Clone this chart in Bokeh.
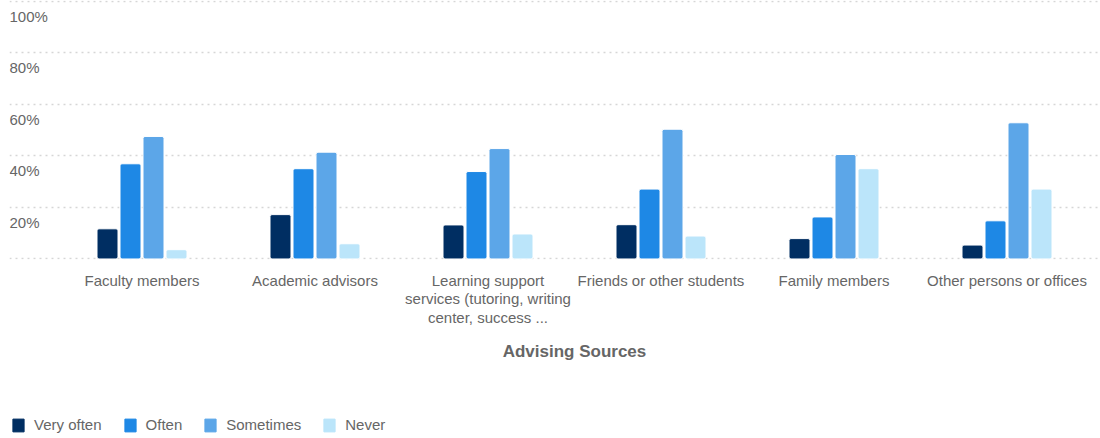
from bokeh.plotting import figure
from bokeh.layouts import column
from bokeh.models import (ColumnDataSource, FixedTicker, Grid, Range1d,
                          Legend, LegendItem, LinearAxis)
from bokeh.transform import dodge
from bokeh.core.properties import value
from bokeh.embed import file_html
from bokeh.resources import INLINE

# ---------------- data ----------------
categories = [
    "Faculty members",
    "Academic advisors",
    "Learning support\nservices (tutoring, writing\ncenter, success ...",
    "Friends or other students",
    "Family members",
    "Other persons or offices",
]
series_names = ["Very often", "Often", "Sometimes", "Never"]
very_often = [11.7, 17.2, 13.2, 13.3, 7.9, 5.4]
often = [36.9, 35.0, 33.9, 27.1, 16.3, 14.8]
sometimes = [47.5, 41.4, 42.8, 50.3, 40.5, 52.8]
never = [3.6, 5.9, 9.7, 8.9, 35.0, 27.1]
y_ticks = [0, 20, 40, 60, 80, 100]
y_tick_labels = ["", "20%", "40%", "60%", "80%", "100%"]
x_title = "Advising Sources"

colors = ["#002e62", "#1e88e5", "#5ca6e8", "#bbe5fa"]
FONT = "Liberation Sans"
TEXT = "#666666"

# ---------------- layout ----------------
W = 1098
H1 = 400
H2 = 36
LEFT = 9
FRAME_H = 259
cat_px = 173.0
first_center_px = 132.5          # from frame left
x_start = -first_center_px / cat_px
x_end = x_start + (W - LEFT) / cat_px
y_start, y_end = -0.2, 100.0

p = figure(width=W, height=H1, output_backend="svg", toolbar_location=None,
           x_range=Range1d(x_start, x_end), y_range=Range1d(y_start, y_end + 0.2),
           x_axis_location=None, y_axis_location=None,
           min_border_left=LEFT, min_border_right=0, min_border_top=0,
           min_border_bottom=H1 - FRAME_H)
p.outline_line_color = None
p.grid.visible = False

# dotted horizontal grid
grid = Grid(dimension=1, ticker=FixedTicker(ticks=y_ticks),
            grid_line_color="#d6d6d6", grid_line_dash="2 4", grid_line_width=1.3)
p.add_layout(grid)

# bars
xs = list(range(len(categories)))
source = ColumnDataSource(dict(x=xs, very_often=very_often, often=often,
                               sometimes=sometimes, never=never))
cols = ["very_often", "often", "sometimes", "never"]
pitch = 23.0 / cat_px
bar_w = 21.0 / cat_px
for i, (col, c) in enumerate(zip(cols, colors)):
    off = (i - 1.5) * pitch
    p.vbar(x=dodge("x", off, range=p.x_range), top=col, width=bar_w,
           source=source, fill_color=c, line_color="white", line_width=1,
           border_radius=2)

# y tick labels (drawn just below each gridline)
ysrc = ColumnDataSource(dict(x=[x_start] * len(y_ticks), y=y_ticks, t=y_tick_labels))
p.text(x="x", y="y", text="t", source=ysrc, x_offset=0, y_offset=15,
       text_font=value(FONT), text_font_size="15px", text_color=TEXT,
       text_align="left", text_baseline="alphabetic")

# x axis with category labels
xaxis = LinearAxis(ticker=FixedTicker(ticks=xs),
                   major_label_overrides={i: c for i, c in enumerate(categories)})
xaxis.axis_line_color = None
xaxis.major_tick_line_color = None
xaxis.minor_tick_line_color = None
xaxis.major_label_standoff = 6
xaxis.major_label_text_font = FONT
xaxis.major_label_text_font_size = "15px"
xaxis.major_label_text_color = TEXT
xaxis.major_label_text_line_height = 1.1
p.add_layout(xaxis, "below")

# axis title, centred on the span of the categories
mid = (len(categories) - 1) / 2
taxis = LinearAxis(ticker=FixedTicker(ticks=[mid]),
                   major_label_overrides={mid: x_title})
taxis.axis_line_color = None
taxis.major_tick_line_color = None
taxis.minor_tick_line_color = None
taxis.major_label_standoff = 7
taxis.major_label_text_font = FONT
taxis.major_label_text_font_size = "17px"
taxis.major_label_text_font_style = "bold"
taxis.major_label_text_color = TEXT
p.add_layout(taxis, "below")

# ---------------- legend strip ----------------
# same data, drawn outside the visible y range so only the legend shows
p2 = figure(width=W, height=H2, output_backend="svg", toolbar_location=None,
            x_range=Range1d(x_start, x_end), y_range=Range1d(1000, 1001),
            x_axis_location=None, y_axis_location=None,
            min_border_left=0, min_border_right=0, min_border_top=0,
            min_border_bottom=0)
p2.outline_line_color = None
p2.grid.visible = False
items = []
for name, col, c in zip(series_names, cols, colors):
    r = p2.vbar(x="x", top=col, width=bar_w, source=source,
                fill_color=c, line_color=c, line_width=1)
    items.append(LegendItem(label=name, renderers=[r]))
legend = Legend(items=items, orientation="horizontal", location=(2, 3),
                glyph_width=14, glyph_height=16, label_height=12,
                label_standoff=9, spacing=21, padding=0, margin=0,
                border_line_color=None, background_fill_alpha=0,
                label_text_font=FONT, label_text_font_size="15px",
                label_text_color=TEXT, label_text_baseline="middle")
p2.add_layout(legend, "center")

open("out.html", "w").write(file_html(column(p, p2), INLINE))
